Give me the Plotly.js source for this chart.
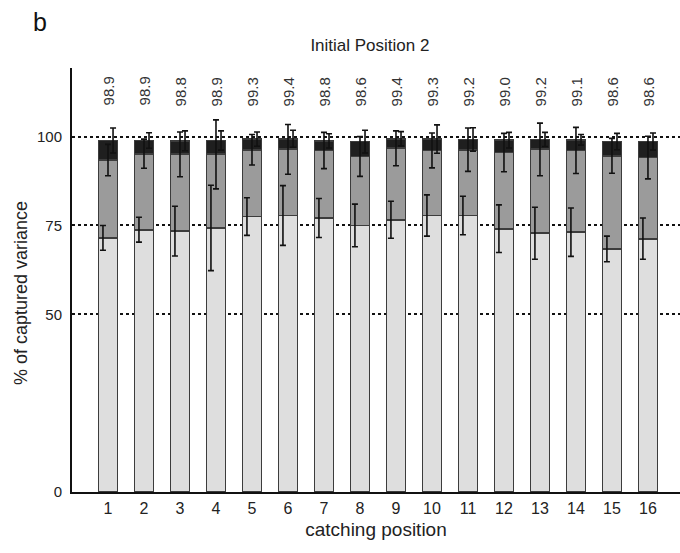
<!DOCTYPE html>
<html>
<head>
<meta charset="utf-8">
<script src="https://cdn.plot.ly/plotly-3.0.1.min.js"></script>
<style>
html,body{margin:0;padding:0;background:#fff;}
#chart{width:680px;height:553px;}
</style>
</head>
<body>
<div id="chart"></div>
<script>
// Data
const positions = [1,2,3,4,5,6,7,8,9,10,11,12,13,14,15,16];
const tickLabels = ["1","2","3","4","5","6","7","8","9","10","11","12","13","14","15","16"];
const totalLabels = ["98.9","98.9","98.8","98.9","99.3","99.4","98.8","98.6","99.4","99.3","99.2","99.0","99.2","99.1","98.6","98.6"];
const totals =   [98.9,98.9,98.8,98.9,99.3,99.4,98.8,98.6,99.4,99.3,99.2,99.0,99.2,99.1,98.6,98.6];
// cumulative tops of the light and medium segments
const lightTop = [71.5,73.8,73.4,74.3,77.5,77.8,77.1,75.0,76.6,77.8,77.8,74.1,72.8,73.1,68.4,71.3];
const mediumTop = [93.4,95.2,95.0,95.0,96.3,96.4,96.1,94.4,96.7,96.1,96.3,95.5,96.4,96.1,94.6,94.1];
// error bar half-lengths
const lightErr = [3.5,3.5,7.0,12.0,5.3,8.4,5.5,6.0,5.2,5.8,5.4,6.7,7.3,6.8,3.6,5.8];
const mediumErr = [4.4,4.1,6.3,9.7,4.3,7.0,5.1,5.6,4.9,4.9,6.1,5.4,7.4,6.5,4.9,6.0];
const darkErr = [3.5,2.2,2.8,2.7,2.0,2.4,2.0,3.2,2.0,4.0,3.3,2.2,2.0,1.5,2.3,2.4];

const lightSeg = lightTop.slice();
const mediumSeg = mediumTop.map((m,i)=>+(m-lightTop[i]).toFixed(2));
const darkSeg = totals.map((t,i)=>+(t-mediumTop[i]).toFixed(2));

const FONT = 'Liberation Sans, Arial, sans-serif';
const barLine = {color:'#3c3c3c', width:1.8};
const barW = 0.53;
function barTrace(y, color){
  return {type:'bar', x:positions, y:y, width:barW,
    marker:{color:color, line:barLine}, hoverinfo:'skip', showlegend:false};
}
function errTrace(offset, y, err){
  return {type:'scatter', mode:'markers', x:positions.map(p=>p+offset), y:y,
    marker:{size:1, color:'rgba(0,0,0,0)'},
    error_y:{type:'data', array:err, visible:true, color:'#111', thickness:1.6, width:3},
    hoverinfo:'skip', showlegend:false};
}

const traces = [
  barTrace(lightSeg, '#dedede'),
  barTrace(mediumSeg, '#9b9b9b'),
  barTrace(darkSeg, '#1f1f1f'),
  errTrace(-0.14, lightTop, lightErr),
  errTrace(0, mediumTop, mediumErr),
  errTrace(0.14, totals, darkErr)
];

const annotations = positions.map((p,i)=>({
  x:p, y:112.7, xref:'x', yref:'y', text:totalLabels[i], showarrow:false,
  xanchor:'center', yanchor:'middle',
  textangle:-90, font:{family:FONT, size:15, color:'#333'}
}));
annotations.push({x:-0.085, y:0.47, xref:'paper', yref:'paper', text:'% of captured variance',
  showarrow:false, xanchor:'center', yanchor:'middle', textangle:-90,
  font:{family:FONT, size:18, color:'#222'}});
annotations.push({x:-0.052, y:1.108, xref:'paper', yref:'paper', text:'b',
  showarrow:false, xanchor:'center', yanchor:'middle',
  font:{family:FONT, size:25, color:'#111'}});

const layout = {
  width:680, height:553,
  margin:{l:72, r:0, t:68, b:61},
  paper_bgcolor:'#fff', plot_bgcolor:'#fff',
  barmode:'stack',
  font:{family:FONT, color:'#222'},
  title:{text:'Initial Position 2', x:0.49, xref:'paper', xanchor:'center',
    y:0.919, yref:'container', yanchor:'middle',
    font:{family:FONT, size:17, color:'#222'}},
  xaxis:{range:[0,16.89], tickvals:positions, ticktext:tickLabels, ticks:'',
    showline:true, linecolor:'#111', linewidth:2, showgrid:false, zeroline:false,
    tickfont:{size:16, color:'#222'}, ticklabelstandoff:1,
    title:{text:'catching position', font:{size:19, color:'#222'}, standoff:6}},
  yaxis:{range:[0,119.3], tickvals:[0,50,75,100], ticktext:['0','50','75','100'], ticks:'',
    showline:true, linecolor:'#111', linewidth:2, showgrid:true, gridcolor:'#111',
    gridwidth:2, griddash:'dot', zeroline:false, tickfont:{size:15, color:'#222'},
    ticklabelstandoff:5},
  annotations:annotations
};

Plotly.newPlot('chart', traces, layout, {displayModeBar:false, staticPlot:true});
</script>
</body>
</html>
